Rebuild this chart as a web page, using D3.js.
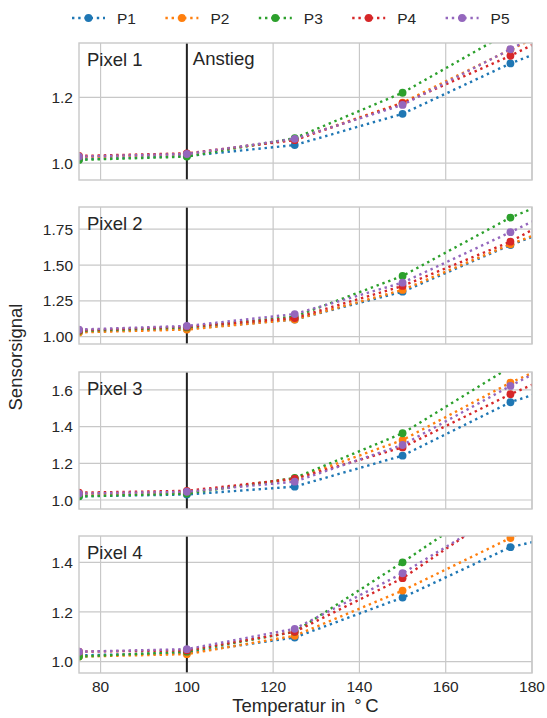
<!DOCTYPE html>
<html>
<head>
<meta charset="utf-8">
<script src="https://cdn.jsdelivr.net/npm/d3@7"></script>
<style>
  body { margin: 0; background: #fff; }
  text { font-family: "Liberation Sans", Arial, sans-serif; fill: #262626; }
</style>
</head>
<body>
<svg id="chart" width="547" height="718"></svg>
<script>
const temps = [75, 100, 125, 150, 175, 200];
const seriesNames = ["P1", "P2", "P3", "P4", "P5"];
const colors = ["#1f77b4", "#ff7f0e", "#2ca02c", "#d62728", "#9467bd"];
const panelNames = ["Pixel 1", "Pixel 2", "Pixel 3", "Pixel 4"];

// one row per series (P1..P5), values at temps
const pixel1 = [
  [1.012, 1.022, 1.055, 1.150, 1.303, 1.43],
  [1.018, 1.028, 1.072, 1.184, 1.345, 1.50],
  [1.010, 1.020, 1.076, 1.214, 1.400, 1.58],
  [1.022, 1.030, 1.070, 1.182, 1.326, 1.49],
  [1.020, 1.028, 1.074, 1.177, 1.346, 1.52]
];
const pixel2 = [
  [1.035, 1.055, 1.120, 1.314, 1.640, 1.92],
  [1.030, 1.050, 1.120, 1.326, 1.645, 1.93],
  [1.040, 1.065, 1.140, 1.424, 1.831, 2.14],
  [1.045, 1.070, 1.130, 1.354, 1.663, 2.07],
  [1.050, 1.075, 1.158, 1.377, 1.729, 2.10]
];
const pixel3 = [
  [1.020, 1.030, 1.073, 1.242, 1.533, 1.73],
  [1.030, 1.040, 1.116, 1.327, 1.640, 1.90],
  [1.020, 1.035, 1.120, 1.364, 1.725, 2.05],
  [1.040, 1.050, 1.116, 1.287, 1.577, 1.83],
  [1.035, 1.045, 1.100, 1.300, 1.622, 1.93]
];
const pixel4 = [
  [1.025, 1.035, 1.097, 1.258, 1.461, 1.56],
  [1.020, 1.030, 1.104, 1.286, 1.498, 1.72],
  [1.020, 1.040, 1.120, 1.400, 1.694, 1.95],
  [1.040, 1.045, 1.120, 1.336, 1.630, 1.90],
  [1.040, 1.050, 1.132, 1.356, 1.620, 1.88]
];
const panelData = [pixel1, pixel2, pixel3, pixel4];
const yDomains = [[0.949, 1.365], [0.949, 1.905], [0.951, 1.698], [0.954, 1.506]];
const yTicks = [[1.0, 1.2], [1.00, 1.25, 1.50, 1.75], [1.0, 1.2, 1.4, 1.6], [1.0, 1.2, 1.4]];
const yFormats = [".1f", ".2f", ".1f", ".1f"];
const xTicks = [80, 100, 120, 140, 160, 180];
const xDomain = [75, 180];
const riseTemp = 100;

const svg = d3.select("#chart");
const left = 79, right = 532;
const panelTops = [43, 207, 372, 536];
const panelH = 137;

const x = d3.scaleLinear().domain(xDomain).range([left, right]);

panelData.forEach((data, p) => {
  const top = panelTops[p];
  const y = d3.scaleLinear().domain(yDomains[p]).range([top + panelH, top]);
  const g = svg.append("g");

  g.append("clipPath").attr("id", "clip" + p)
    .append("rect").attr("x", left).attr("y", top)
    .attr("width", right - left).attr("height", panelH);

  // grid
  g.selectAll(".gx").data(xTicks).enter().append("line")
    .attr("x1", d => x(d)).attr("x2", d => x(d))
    .attr("y1", top).attr("y2", top + panelH)
    .style("stroke", "#c8c8c8").style("stroke-width", 1.2);
  g.selectAll(".gy").data(yTicks[p]).enter().append("line")
    .attr("x1", left).attr("x2", right)
    .attr("y1", d => y(d)).attr("y2", d => y(d))
    .style("stroke", "#c8c8c8").style("stroke-width", 1.2);

  const plot = g.append("g").attr("clip-path", `url(#clip${p})`);

  plot.append("line")
    .attr("x1", x(riseTemp)).attr("x2", x(riseTemp))
    .attr("y1", top).attr("y2", top + panelH)
    .style("stroke", "#222").style("stroke-width", 2);

  const line = d3.line().x((d, i) => x(temps[i])).y(d => y(d));
  data.forEach((vals, s) => {
    plot.append("path")
      .attr("d", line(vals))
      .style("fill", "none")
      .style("stroke", colors[s])
      .style("stroke-width", 2.4)
      .style("stroke-dasharray", "2.4,3.8");
    plot.selectAll(null).data(vals).enter().append("circle")
      .attr("cx", (d, i) => x(temps[i])).attr("cy", d => y(d))
      .attr("r", 3.9).style("fill", colors[s]);
  });

  // frame
  g.append("rect").attr("x", left).attr("y", top)
    .attr("width", right - left).attr("height", panelH)
    .style("fill", "none").style("stroke", "#c8c8c8").style("stroke-width", 1.4);

  // y tick labels
  const fmt = d3.format(yFormats[p]);
  g.selectAll(".yl").data(yTicks[p]).enter().append("text")
    .attr("x", left - 6).attr("y", d => y(d)).attr("dy", "0.36em")
    .attr("text-anchor", "end").style("font-size", "15.5px")
    .text(d => fmt(d));

  g.append("text").attr("x", left + 8).attr("y", top + 23)
    .style("font-size", "18.5px").text(panelNames[p]);

  if (p === 0) {
    g.append("text").attr("x", x(riseTemp) + 6).attr("y", top + 22)
      .style("font-size", "18.5px").text("Anstieg");
  }

  if (p === panelData.length - 1) {
    g.selectAll(".xl").data(xTicks).enter().append("text")
      .attr("x", d => x(d)).attr("y", top + panelH + 19)
      .attr("text-anchor", "middle").style("font-size", "15.5px")
      .text(d => d);
  }
});

// axis labels
svg.append("text").attr("x", (left + right) / 2).attr("y", 712)
  .attr("text-anchor", "middle").style("font-size", "18.5px")
  .text("Temperatur in \u2009°\u2009C");
svg.append("text")
  .attr("transform", "translate(22,357) rotate(-90)")
  .attr("text-anchor", "middle").style("font-size", "18.5px")
  .text("Sensorsignal");

// legend
const legend = svg.append("g");
seriesNames.forEach((name, i) => {
  const lx = 72 + i * 93.4, ly = 18;
  legend.append("line").attr("x1", lx).attr("x2", lx + 33)
    .attr("y1", ly).attr("y2", ly)
    .style("stroke", colors[i]).style("stroke-width", 2.4)
    .style("stroke-dasharray", "2.4,3.8");
  legend.append("circle").attr("cx", lx + 16.5).attr("cy", ly).attr("r", 3.9)
    .style("fill", colors[i]);
  legend.append("text").attr("x", lx + 45).attr("y", ly).attr("dy", "0.36em")
    .style("font-size", "15.5px").text(name);
});
</script>
</body>
</html>
